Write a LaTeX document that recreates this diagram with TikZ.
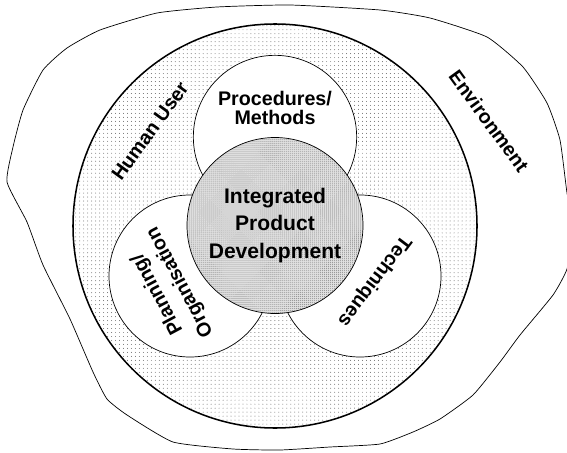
\documentclass[tikz,border=0pt]{standalone}
\usepackage{fontspec}
\setmainfont{Liberation Sans}
\usetikzlibrary{patterns.meta}
\tikzset{
  disc/.style={circle, draw, inner sep=0pt, line width=0.6pt, fill=white},
  userdisc/.style={disc, line width=1.3pt, preaction={fill=white},
                   pattern={Dots[distance=3.4pt, radius=0.4pt]}, pattern color=black!60},
  coredisc/.style={disc, preaction={fill=black!12},
                   pattern={Dots[distance=1.7pt, radius=0.36pt]}, pattern color=black!60},
  lbl/.style={font=\bfseries\fontsize{16.8}{15.8}\selectfont, align=center, inner sep=0pt},
}
\begin{document}
\begin{tikzpicture}[x=0.03cm, y=-0.03cm]
  \useasboundingbox (0,0) rectangle (567,452);
  \draw[line width=0.6pt, fill=white] plot[smooth cycle, tension=0.3] coordinates {
    (7,182) (13,147) (23,110) (43,70) (67,48) (100,30) (157,13) (217,7) (290,5)
    (380,10) (430,18) (487,37) (523,67) (547,103) (560,140) (567,193) (574,230)
    (567,269) (553,295) (520,335) (500,362) (473,395) (440,419) (413,432) (380,444)
    (330,447) (280,450) (233,449) (173,442) (127,415) (107,399) (93,372) (70,319)
    (43,265) (27,222)};

  \node[userdisc, minimum size=12.12cm] (user) at (275,226) {};
  \node[disc, minimum size=4.9cm] (proc) at (275,137) {};
  \node[disc, minimum size=4.86cm] (plan) at (190,276) {};
  \node[disc, minimum size=4.86cm] (tech) at (360,276) {};
  \node[coredisc, minimum size=5.28cm] (ipd) at (275,225.5) {};

  \node[lbl] (proclbl) at (275,108) {Procedures/\\Methods};
  \node[lbl, font=\bfseries\fontsize{18}{23.4}\selectfont] (ipdlbl) at (ipd) {Integrated\\Product\\Development};
  \node[lbl, rotate=54] (userlbl) at (150,131) {Human User};
  \node[lbl, rotate=-54] (envlbl) at (489,121) {Environment};
  \node[lbl, rotate=118, font=\bfseries\fontsize{16.8}{22}\selectfont] (planlbl) at (169,288) {Planning/\\Organisation};
  \node[lbl, rotate=-127] (techlbl) at (374,281) {Techniques};
\end{tikzpicture}
\end{document}
